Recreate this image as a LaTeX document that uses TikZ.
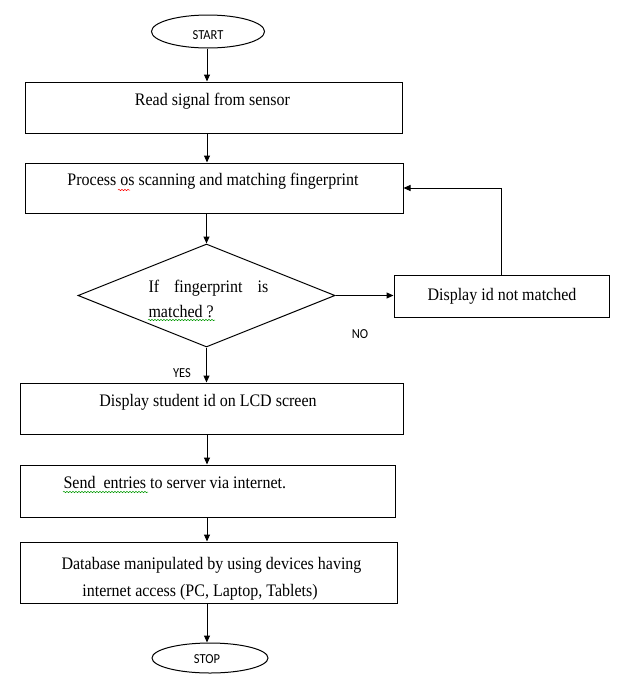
\documentclass[tikz,border=0pt]{standalone}
\usepackage{fontspec}
\setmainfont{Liberation Serif}
\newfontfamily\labelfont{Carlito}
\usetikzlibrary{shapes.geometric,arrows.meta,decorations.pathmorphing}
\newcommand{\tallt}[1]{\scalebox{1}[1.1]{#1}}
\begin{document}
\begin{tikzpicture}[x=1pt,y=-1pt, line width=1pt,
  box/.style={draw, rectangle, inner sep=0pt},
  term/.style={draw, ellipse, inner sep=0pt},
  txt/.style={inner sep=0pt, anchor=base, font=\fontsize{16}{19}\selectfont},
  lbl/.style={inner sep=0pt, anchor=base, font=\labelfont\fontsize{12.5}{15}\selectfont},
  arr/.style={-{Triangle[length=7pt,width=6pt]}},
  squig/.style={decorate, decoration={snake, amplitude=0.7pt, segment length=3pt}, line width=0.5pt}]
\useasboundingbox (0,0) rectangle (617,675);
\coordinate (axis) at (207,0);

% terminals
\node[term, minimum width=113pt, minimum height=33pt] (start) at (208,31.5) {};
\node[lbl] (startt) at (208,39) {\tallt{START}};
\node[term, minimum width=116pt, minimum height=30pt] (stop) at (210,658) {};
\node[lbl] (stopt) at (207,663) {\tallt{STOP}};

% process boxes
\node[box, minimum width=377pt, minimum height=51pt] (b1) at (213.5,107.5) {};
\node[txt] (b1t) at (212.5,105) {\tallt{Read signal from sensor}};

\node[box, minimum width=378pt, minimum height=50pt] (b2) at (214,188) {};
\node[txt] (b2t) at (213,185) {\tallt{Process os scanning and matching fingerprint}};

\node[draw, diamond, inner sep=0pt, minimum width=257pt, minimum height=103pt] (dia) at (206.5,295.5) {};
\node[txt, anchor=base west] (dt1) at (148,292) {\tallt{If\hspace{15pt}fingerprint\hspace{15pt}is}};
\node[txt, anchor=base west] (dt2) at (148,317) {\tallt{matched ?}};

\node[box, minimum width=215pt, minimum height=42pt] (nm) at (501.5,296) {};
\node[txt] (nmt) at (502,300) {\tallt{Display id not matched}};

\node[box, minimum width=383pt, minimum height=51pt] (b3) at (211.5,408.5) {};
\node[txt] (b3t) at (208,406) {\tallt{Display student id on LCD screen}};

\node[box, minimum width=375pt, minimum height=52pt] (b4) at (207.5,491) {};
\node[txt, anchor=base west] (b4t) at (63,488) {\tallt{Send\ \ entries to server via internet.}};

\node[box, minimum width=377pt, minimum height=61pt] (b5) at (208.5,572.5) {};
\node[txt] (b5t1) at (211.5,569) {\tallt{Database manipulated by using devices having}};
\node[txt] (b5t2) at (200,596) {\tallt{internet access (PC, Laptop, Tablets)}};

% labels
\node[lbl] (no) at (360,338) {\tallt{NO}};
\node[lbl] (yes) at (182,377) {\tallt{YES}};

% spell-check squiggles
\draw[squig, red] (118,190) -- (130,190);
\draw[squig, green!60!black] (63,492) -- (148,492);
\draw[squig, green!60!black] (148,320) -- (215,320);

% connectors
\draw[arr] (start.south -| axis) -- (b1.north -| axis);
\draw[arr] (b1.south -| axis) -- (b2.north -| axis);
\draw[arr] (dia.north |- b2.south) -- (dia.north);
\draw[arr] (dia.south) -- (dia.south |- b3.north);
\draw[arr] (b3.south -| axis) -- (b4.north -| axis);
\draw[arr] (b4.south -| axis) -- (b5.north -| axis);
\draw[arr] (b5.south -| axis) -- (stop.north -| axis);
\draw[arr] (dia.east) -- (dia.east -| nm.west);
\draw[arr] (nm.north) |- (b2.east);
\end{tikzpicture}
\end{document}
